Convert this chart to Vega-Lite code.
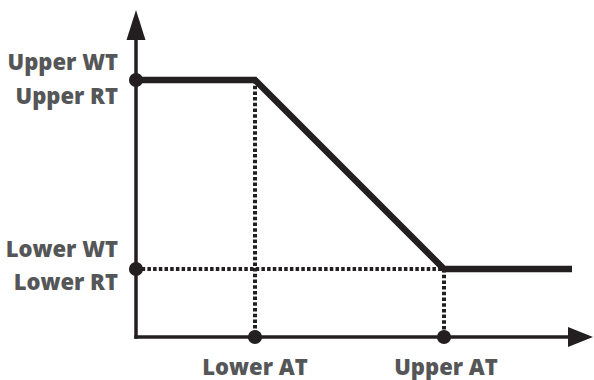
{
  "$schema": "https://vega.github.io/schema/vega-lite/v6.json",
  "width": 594,
  "height": 380,
  "padding": 0,
  "autosize": {"type": "none"},
  "background": "white",
  "config": {"view": {"stroke": null}},
  "encoding": {
    "x": {"field": "x", "type": "quantitative", "scale": {"domain": [-136, 458], "zero": false, "nice": false}, "axis": null},
    "y": {"field": "y", "type": "quantitative", "scale": {"domain": [-43, 337], "zero": false, "nice": false}, "axis": null}
  },
  "layer": [
    {
      "data": {"values": [
        {"x": 119, "y": 257, "x2": 119, "y2": 0},
        {"x": 0, "y": 68, "x2": 308, "y2": 68},
        {"x": 308, "y": 68, "x2": 308, "y2": 0}
      ]},
      "mark": {"type": "rule", "color": "#231f20", "strokeWidth": 4, "strokeDash": [3.5, 2.2]},
      "encoding": {"x2": {"field": "x2"}, "y2": {"field": "y2"}}
    },
    {
      "data": {"values": [
        {"x": 0, "y": 0, "x2": 0, "y2": 300},
        {"x": 0, "y": 0, "x2": 434, "y2": 0}
      ]},
      "mark": {"type": "rule", "color": "#231f20", "strokeWidth": 3.5, "strokeCap": "square"},
      "encoding": {"x2": {"field": "x2"}, "y2": {"field": "y2"}}
    },
    {
      "data": {"values": [
        {"x": 0, "y": 257},
        {"x": 119, "y": 257},
        {"x": 308, "y": 68},
        {"x": 436, "y": 68}
      ]},
      "mark": {"type": "line", "color": "#231f20", "strokeWidth": 6.5, "strokeJoin": "miter", "strokeCap": "butt"}
    },
    {
      "data": {"values": [
        {"x": 0, "y": 257},
        {"x": 0, "y": 68},
        {"x": 119, "y": 0},
        {"x": 308, "y": 0}
      ]},
      "mark": {"type": "point", "shape": "circle", "filled": true, "opacity": 1, "color": "#231f20", "size": 200}
    },
    {
      "data": {"values": [{"x": 0, "y": 312}]},
      "mark": {"type": "point", "shape": "M0,-1L0.633,1L-0.633,1Z", "filled": true, "opacity": 1, "color": "#231f20", "size": 900}
    },
    {
      "data": {"values": [{"x": 444.5, "y": 0}]},
      "mark": {"type": "point", "shape": "M1,0L-1,-0.8L-1,0.8Z", "filled": true, "opacity": 1, "color": "#231f20", "size": 625}
    },
    {
      "data": {"values": [
        {"x": -18, "y": 267, "label": "Upper WT"},
        {"x": -18, "y": 233, "label": "Upper RT"},
        {"x": -18, "y": 80, "label": "Lower WT"},
        {"x": -18, "y": 47, "label": "Lower RT"}
      ]},
      "mark": {"type": "text", "align": "right", "baseline": "alphabetic", "font": "Open Sans", "fontWeight": 800, "fontSize": 22, "color": "#555658"},
      "encoding": {"text": {"field": "label"}}
    },
    {
      "data": {"values": [
        {"x": 119, "y": -38, "label": "Lower AT"},
        {"x": 310, "y": -38, "label": "Upper AT"}
      ]},
      "mark": {"type": "text", "align": "center", "baseline": "alphabetic", "font": "Open Sans", "fontWeight": 800, "fontSize": 22, "color": "#555658"},
      "encoding": {"text": {"field": "label"}}
    }
  ]
}
